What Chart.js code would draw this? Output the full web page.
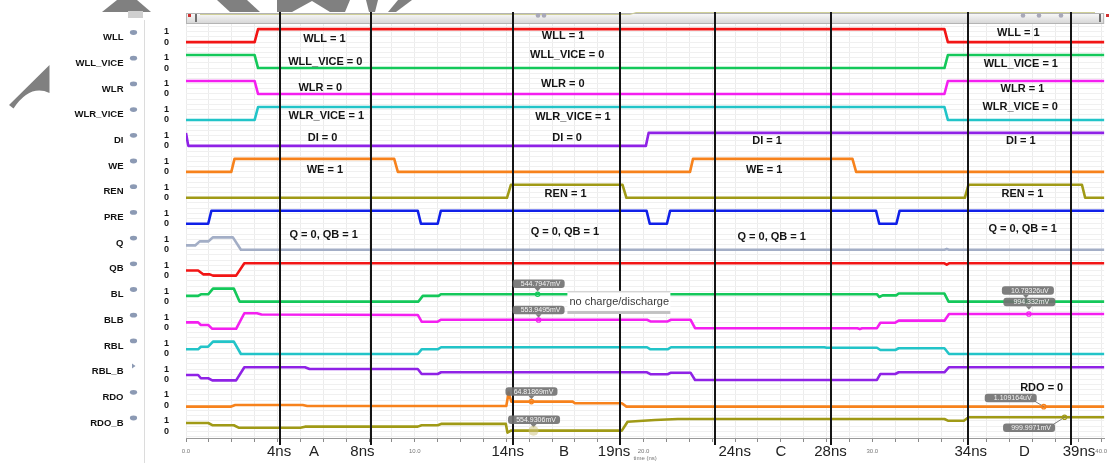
<!DOCTYPE html>
<html>
<head>
<meta charset="utf-8">
<script src="https://cdn.jsdelivr.net/npm/chart.js@4.4.1/dist/chart.umd.min.js"></script>
<style>
  html, body { margin: 0; padding: 0; background: #fff; }
  #wrap { width: 1113px; height: 463px; }
</style>
</head>
<body>
<div id="wrap"><canvas id="wave" width="1113" height="463"></canvas></div>
<script>
// signal rows, top to bottom
var signalNames = ["WLL", "WLL_VICE", "WLR", "WLR_VICE", "DI", "WE", "REN", "PRE",
    "Q", "QB", "BL", "BLB", "RBL", "RBL_B", "RDO", "RDO_B"];
var signalColors = ["#f21515", "#14c85a", "#f41ff0", "#22c4c8", "#8f22e6", "#f7821c",
    "#a09a16", "#1020e8", "#a3aec6", "#f21515", "#14c85a", "#f41ff0", "#22c4c8",
    "#8f22e6", "#f7821c", "#a09a16"];

// times in ns, levels 0 = low, 1 = high
var wlTime = [0, 3.0, 3.15, 33.15, 33.3, 40.2];
var wllLevel = [0, 0, 1, 1, 0, 0];
var wllViceLevel = [1, 1, 0, 0, 1, 1];
var wlrLevel = [1, 1, 0, 0, 1, 1];
var wlrViceLevel = [0, 0, 1, 1, 0, 0];

var diTime = [0, 0.1, 20.1, 20.22, 40.2];
var diLevel = [1, 0, 0, 1, 1];

var weTime = [0, 1.98, 2.12, 9.1, 9.26, 22.03, 22.16, 29.13, 29.29, 40.2];
var weLevel = [0, 0, 1, 1, 0, 0, 1, 1, 0, 0];

var renTime = [0, 14.03, 14.2, 19.08, 19.25, 34.04, 34.2, 39.16, 39.3, 40.2];
var renLevel = [0, 0, 1, 1, 0, 0, 1, 1, 0, 0];

var preTime = [0, 0.97, 1.11, 10.13, 10.27, 11.0, 11.14, 20.13, 20.27, 21.02, 21.16, 30.16, 30.3, 31.05, 31.19, 40.2];
var preLevel = [0, 0, 1, 1, 0, 0, 1, 1, 0, 0, 1, 1, 0, 0, 1, 1];

var qTime = [0, 0.4, 0.6, 0.97, 1.18, 2.05, 2.4, 33.15, 33.25, 33.35, 40.2];
var qLevel = [0.33, 0.33, 0.64, 0.64, 0.95, 0.95, 0, 0, 0.06, 0, 0];

var qbTime = [0, 0.53, 0.75, 1.04, 1.18, 2.19, 2.55, 33.15, 33.25, 33.35, 40.2];
var qbLevel = [0.39, 0.39, 0.1, 0.1, 0, 0, 0.95, 0.95, 0.85, 0.95, 0.95];

var blTime = [0, 0.53, 0.65, 0.97, 1.18, 2.09, 2.34, 10.16, 10.35, 11.04, 11.14, 30.2, 30.3, 30.45, 31.05, 31.15, 33.15, 33.33, 40.2];
var blLevel = [0.44, 0.44, 0.56, 0.56, 1.0, 1.0, 0, 0, 0.44, 0.44, 0.57, 0.57, 0.35, 0.48, 0.48, 0.62, 0.62, 0, 0];

var blbTime = [0, 0.53, 0.65, 0.97, 1.15, 2.19, 2.55, 3.1, 3.3, 10.13, 10.3, 11.0, 11.15, 20.15, 20.3, 21.05, 21.2, 22.05, 22.25, 29.35, 29.45, 29.55, 30.2, 30.35, 31.0, 31.15, 33.15, 33.35, 40.2];
var blbLevel = [0.40, 0.40, 0.2, 0.2, -0.1, -0.1, 1.1, 1.1, 1.0, 0.97, 0.45, 0.45, 0.6, 0.6, 0.47, 0.47, 0.6, 0.6, -0.05, -0.05, -0.12, -0.05, -0.05, 0.37, 0.37, 0.53, 0.53, 1.04, 1.04];

var rblTime = [0, 0.53, 0.65, 0.97, 1.18, 2.09, 2.4, 10.13, 10.3, 11.0, 11.15, 20.15, 20.3, 21.05, 21.2, 27.9, 28.0, 30.2, 30.35, 31.0, 31.15, 33.15, 33.35, 40.2];
var rblLevel = [0.32, 0.32, 0.52, 0.52, 0.91, 0.91, -0.04, -0.04, 0.32, 0.32, 0.48, 0.48, 0.32, 0.32, 0.48, 0.48, 0.44, 0.44, 0.27, 0.27, 0.4, 0.4, -0.04, -0.04];

var rblbTime = [0, 0.53, 0.65, 0.97, 1.15, 2.19, 2.55, 5.2, 5.4, 10.13, 10.3, 11.0, 11.15, 20.15, 20.3, 21.05, 21.2, 22.05, 22.25, 30.2, 30.35, 31.0, 31.15, 33.15, 33.35, 40.2];
var rblbLevel = [0.34, 0.34, 0.09, 0.09, -0.07, -0.07, 0.94, 0.94, 0.8, 0.8, 0.42, 0.42, 0.55, 0.55, 0.4, 0.4, 0.52, 0.52, -0.04, -0.04, 0.42, 0.42, 0.55, 0.55, 0.94, 0.94];

var rdoTime = [0, 1.95, 2.15, 5.1, 5.3, 14.0, 14.1, 14.22, 16.9, 17.0, 19.05, 19.25, 40.2];
var rdoLevel = [-0.1, -0.1, 0.03, 0.03, -0.05, -0.05, 0.98, 0.29, 0.29, 0.16, 0.16, -0.1, -0.1];

var rdobTime = [0, 0.97, 1.15, 2.09, 2.3, 5.0, 5.2, 10.13, 10.3, 11.0, 11.15, 13.98, 14.05, 14.2, 19.05, 19.3, 20.5, 21.5, 33.15, 33.3, 34.0, 34.2, 40.2];
var rdobLevel = [0.64, 0.64, 0.47, 0.47, 0.28, 0.28, 0.36, 0.36, 0.47, 0.47, 0.57, 0.57, -0.1, 0.05, 0.05, 0.74, 0.87, 0.95, 0.95, 0.82, 0.82, 1.08, 1.08];

var signalTimes = [wlTime, wlTime, wlTime, wlTime, diTime, weTime, renTime, preTime,
    qTime, qbTime, blTime, blbTime, rblTime, rblbTime, rdoTime, rdobTime];
var signalLevels = [wllLevel, wllViceLevel, wlrLevel, wlrViceLevel, diLevel, weLevel, renLevel, preLevel,
    qLevel, qbLevel, blLevel, blbLevel, rblLevel, rblbLevel, rdoLevel, rdobLevel];

// hand drawn cursor lines and their labels under the axis
var cursorTimes = [4.09, 8.1, 14.29, 18.96, 23.12, 28.17, 34.2, 38.7];
var bottomLabels = ["4ns", "A", "8ns", "14ns", "B", "19ns", "24ns", "C", "28ns", "34ns", "D", "39ns"];
var bottomLabelTimes = [4.07, 5.6, 7.71, 14.06, 16.52, 18.71, 23.98, 26.0, 28.17, 34.3, 36.65, 39.03];

// state notes: text, time, value on the stacked axis
var stateTexts = ["WLL = 1", "WLL_VICE = 0", "WLR = 0", "WLR_VICE = 1", "DI = 0", "WE = 1", "Q = 0, QB = 1",
    "WLL = 1", "WLL_VICE = 0", "WLR = 0", "WLR_VICE = 1", "DI = 0", "REN = 1", "Q = 0, QB = 1",
    "DI = 1", "WE = 1", "Q = 0, QB = 1",
    "WLL = 1", "WLL_VICE = 1", "WLR = 1", "WLR_VICE = 0", "DI = 1", "REN = 1", "Q = 0, QB = 1", "RDO = 0"];
var stateTimes = [6.05, 6.09, 5.87, 6.13, 5.97, 6.07, 6.02,
    16.48, 16.66, 16.47, 16.91, 16.66, 16.59, 16.56,
    25.4, 25.27, 25.6,
    36.38, 36.49, 36.56, 36.46, 36.49, 36.56, 36.57, 37.4];
var stateValues = [30.24, 28.47, 26.46, 24.3, 22.63, 20.14, 15.13,
    30.47, 28.98, 26.75, 24.25, 22.63, 18.29, 15.34,
    22.38, 20.14, 15.0,
    30.68, 28.31, 26.41, 24.97, 22.4, 18.29, 15.6, 3.32];

// marker readouts: text, time, row, level
var markerTexts = ["544.7947mV", "553.9495mV", "64.81869mV", "554.9306mV",
    "10.78326uV", "994.332mV", "1.109164uV", "999.9971mV"];
var markerTimes = [15.37, 15.41, 15.1, 15.19, 36.71, 36.84, 37.49, 38.4];
var markerRows = [10, 11, 14, 15, 10, 11, 14, 15];
var markerLevels = [0.56, 0.58, 0.29, 0.05, 0, 1.04, -0.1, 1.08];
var markerOffsets = [[1, -10.5], [0, -10], [0, -10], [0.5, -11], [2, -11], [0.5, -12], [-33, -8.7], [-35.5, 10.5]];

var rowPitch = 2;
var FONT = '"Liberation Sans", Arial, sans-serif';

function rowBase(i) {
    return (signalNames.length - 1 - i) * rowPitch;
}

var datasets = signalNames.map(function (name, i) {
    var pts = signalTimes[i].map(function (t, k) {
        return { x: t, y: rowBase(i) + signalLevels[i][k] };
    });
    return {
        label: name,
        data: pts,
        borderColor: signalColors[i],
        borderWidth: 2.6,
        pointRadius: 0,
        tension: 0,
        fill: false,
        borderJoinStyle: 'round'
    };
});

function poly(ctx, pts) {
    ctx.beginPath();
    ctx.moveTo(pts[0][0], pts[0][1]);
    for (var k = 1; k < pts.length; k++) ctx.lineTo(pts[k][0], pts[k][1]);
    ctx.closePath();
    ctx.fill();
}

function rrect(ctx, x, y, w, h, r) {
    ctx.beginPath();
    ctx.moveTo(x + r, y);
    ctx.lineTo(x + w - r, y);
    ctx.quadraticCurveTo(x + w, y, x + w, y + r);
    ctx.lineTo(x + w, y + h - r);
    ctx.quadraticCurveTo(x + w, y + h, x + w - r, y + h);
    ctx.lineTo(x + r, y + h);
    ctx.quadraticCurveTo(x, y + h, x, y + h - r);
    ctx.lineTo(x, y + r);
    ctx.quadraticCurveTo(x, y, x + r, y);
    ctx.closePath();
}

var decorPlugin = {
    id: 'decor',
    beforeDraw: function (chart) {
        var ctx = chart.ctx;
        var area = chart.chartArea;
        ctx.save();
        ctx.fillStyle = '#fff';
        ctx.fillRect(0, 0, chart.width, chart.height);

        // grey arrow shapes left over from the slide
        ctx.fillStyle = '#808080';
        poly(ctx, [[117, 0], [137, 0], [151, 12], [102, 12]]);
        poly(ctx, [[217, 0], [247, 0], [260, 12], [230, 12]]);
        poly(ctx, [[277, 0], [350, 0], [345, 12], [330, 12], [312, 1], [292, 12], [277, 12]]);
        poly(ctx, [[366, 0], [378, 0], [375, 12], [369, 12]]);
        poly(ctx, [[398, 0], [412, 0], [396, 12], [388, 12]]);
        ctx.beginPath();
        ctx.moveTo(49.5, 65);
        ctx.lineTo(49.5, 93);
        ctx.quadraticCurveTo(30, 84, 13.5, 108.5);
        ctx.lineTo(9, 105);
        ctx.closePath();
        ctx.fill();

        // left panel divider and small handle
        ctx.fillStyle = '#cfcfcf';
        ctx.fillRect(128, 11, 15, 7);
        ctx.strokeStyle = '#dcdcdc';
        ctx.lineWidth = 1;
        ctx.beginPath();
        ctx.moveTo(144.5, 20);
        ctx.lineTo(144.5, chart.height);
        ctx.stroke();

        // overview scroll bar
        var g = ctx.createLinearGradient(0, 13, 0, 24);
        g.addColorStop(0, '#fbfbfb');
        g.addColorStop(1, '#d4d4d4');
        ctx.fillStyle = g;
        ctx.fillRect(area.left, 13, area.right - area.left, 11);
        ctx.strokeStyle = '#b4b4b4';
        ctx.strokeRect(area.left + 0.5, 13.5, area.right - area.left - 1, 10);
        ctx.strokeStyle = '#cfcf98';
        ctx.beginPath();
        ctx.moveTo(200, 14.5);
        ctx.lineTo(630, 14.5);
        ctx.lineTo(636, 12.5);
        ctx.lineTo(1095, 12.5);
        ctx.stroke();
        ctx.fillStyle = '#d03030';
        ctx.fillRect(188, 14, 3, 3);
        ctx.fillRect(1106, 14, 3, 3);
        ctx.fillStyle = '#707070';
        ctx.fillRect(195, 14, 2, 8);
        ctx.fillRect(1099, 14, 2, 8);
        ctx.fillStyle = '#a8a8b8';
        [538, 544, 1023, 1039, 1061].forEach(function (x) {
            ctx.beginPath();
            ctx.arc(x, 15.5, 2.3, 0, Math.PI * 2);
            ctx.fill();
        });

        // signal names with eye icons
        ctx.font = 'bold 9.5px ' + FONT;
        ctx.textAlign = 'right';
        ctx.textBaseline = 'middle';
        signalNames.forEach(function (name, i) {
            var y = 37.5 + 25.7 * i;
            ctx.fillStyle = '#111';
            ctx.fillText(name, 123.5, y);
            ctx.fillStyle = '#8c9ab4';
            ctx.beginPath();
            if (name === 'RBL_B') {
                ctx.moveTo(132, y - 8);
                ctx.lineTo(135.5, y - 5.5);
                ctx.lineTo(132, y - 3);
                ctx.closePath();
            } else {
                ctx.ellipse(133.5, y - 5, 3.6, 2.4, 0, 0, Math.PI * 2);
            }
            ctx.fill();
        });
        ctx.restore();
    },
    afterDatasetsDraw: function (chart) {
        var ctx = chart.ctx;
        var xs = chart.scales.x;
        var ys = chart.scales.y;
        ctx.save();

        // cursor lines
        ctx.strokeStyle = '#151515';
        ctx.lineWidth = 2;
        cursorTimes.forEach(function (t) {
            var x = Math.round(xs.getPixelForValue(t));
            ctx.beginPath();
            ctx.moveTo(x, 12);
            ctx.lineTo(x, 445);
            ctx.stroke();
        });

        // state notes
        ctx.fillStyle = '#141414';
        ctx.font = 'bold 11px ' + FONT;
        ctx.textAlign = 'center';
        ctx.textBaseline = 'middle';
        stateTexts.forEach(function (txt, k) {
            ctx.fillText(txt, xs.getPixelForValue(stateTimes[k]), ys.getPixelForValue(stateValues[k]));
        });

        // marker readouts
        markerTexts.forEach(function (txt, k) {
            var px = xs.getPixelForValue(markerTimes[k]);
            var py = ys.getPixelForValue(rowBase(markerRows[k]) + markerLevels[k]);
            var cx = px + markerOffsets[k][0];
            var cy = py + markerOffsets[k][1];
            var w = 52, h = 8.5;
            ctx.fillStyle = 'rgba(112,112,112,0.9)';
            ctx.strokeStyle = 'rgba(112,112,112,0.9)';
            if (Math.abs(markerOffsets[k][0]) < 5) {
                ctx.beginPath();
                ctx.moveTo(px - 3, cy + h / 2);
                ctx.lineTo(px + 3, cy + h / 2);
                ctx.lineTo(px, cy + h / 2 + 3.5);
                ctx.closePath();
                ctx.fill();
            } else {
                ctx.lineWidth = 1;
                ctx.beginPath();
                ctx.moveTo(cx + w / 2 - 2, cy + (markerOffsets[k][1] < 0 ? h / 2 - 1 : -h / 2 + 1));
                ctx.lineTo(px, py);
                ctx.stroke();
            }
            rrect(ctx, cx - w / 2, cy - h / 2, w, h, 3);
            ctx.fill();
            ctx.fillStyle = '#f4f4f4';
            ctx.font = '7px ' + FONT;
            ctx.fillText(txt, cx + 2, cy + 0.5);
            if (k === 3) {
                ctx.fillStyle = 'rgba(205,195,130,0.55)';
                ctx.beginPath();
                ctx.arc(px, py, 5, 0, Math.PI * 2);
                ctx.fill();
            } else {
                ctx.strokeStyle = datasets[markerRows[k]].borderColor;
                ctx.lineWidth = 1.2;
                ctx.beginPath();
                ctx.arc(px, py, 2.2, 0, Math.PI * 2);
                ctx.stroke();
            }
        });

        // note box over BL
        var bx = xs.getPixelForValue(16.67);
        var by = ys.getPixelForValue(10.82);
        ctx.fillStyle = '#fff';
        ctx.fillRect(bx, by, 103, 23);
        ctx.fillStyle = '#d4d4d4';
        ctx.fillRect(bx, by, 103, 1.5);
        ctx.fillStyle = '#c2c2c2';
        ctx.fillRect(bx, by + 20, 103, 3);
        ctx.fillStyle = '#3a3a3a';
        ctx.font = '11px ' + FONT;
        ctx.textAlign = 'left';
        ctx.fillText('no charge/discharge', bx + 2, by + 11);

        // big labels under the axis
        ctx.fillStyle = '#222';
        ctx.font = '15px ' + FONT;
        ctx.textAlign = 'center';
        bottomLabels.forEach(function (txt, k) {
            ctx.fillText(txt, xs.getPixelForValue(bottomLabelTimes[k]), 452);
        });
        ctx.restore();
    }
};

new Chart(document.getElementById('wave'), {
    type: 'line',
    data: { datasets: datasets },
    options: {
        responsive: false,
        animation: false,
        events: [],
        layout: { padding: { left: 0, right: 0, top: 24, bottom: 0 } },
        plugins: { legend: { display: false }, tooltip: { enabled: false } },
        scales: {
            x: {
                type: 'linear',
                min: 0,
                max: 40.13,
                afterFit: function (scale) { scale.height = 25; },
                grid: { color: '#ececec', lineWidth: 1, drawTicks: true, tickLength: 4, tickColor: '#8a8a8a' },
                border: { display: true, color: '#9a9a9a' },
                ticks: {
                    stepSize: 1,
                    includeBounds: false,
                    autoSkip: false,
                    maxRotation: 0,
                    padding: 6,
                    color: '#777',
                    font: { size: 6, family: FONT },
                    callback: function (v) { return v % 10 === 0 ? v.toFixed(1) : ''; }
                },
                title: { display: true, text: 'time (ns)', color: '#777', font: { size: 6, family: FONT }, padding: { top: 0, bottom: 1 } }
            },
            y: {
                type: 'linear',
                min: -0.515,
                max: 31.395,
                afterFit: function (scale) { scale.width = 186; },
                grid: { color: '#f0f0f0', lineWidth: 1, drawTicks: false },
                border: { display: false },
                ticks: {
                    stepSize: 0.4,
                    includeBounds: false,
                    autoSkip: false,
                    padding: 17,
                    color: '#151515',
                    font: { size: 9, weight: 'bold', family: FONT },
                    callback: function (v) {
                        var r = Math.round(v * 10) % 20;
                        if (r === 0) return '0';
                        if (r === 8) return '1';
                        return '';
                    }
                }
            }
        }
    },
    plugins: [decorPlugin]
});
</script>
</body>
</html>
